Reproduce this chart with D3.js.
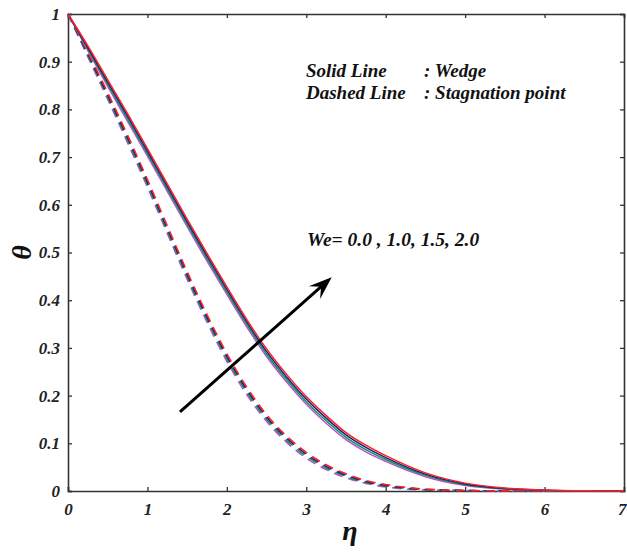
<!DOCTYPE html>
<html>
<head>
<meta charset="utf-8">
<script src="https://cdn.jsdelivr.net/npm/d3@7"></script>
<style>
  html, body { margin: 0; padding: 0; background: #fff; }
  svg { display: block; }
  .ax text { font-family: "Liberation Serif", "Times New Roman", serif; font-weight: bold; font-style: italic; font-size: 17px; fill: #222; }
  .lab { font-family: "Liberation Serif", "Times New Roman", serif; font-weight: bold; font-style: italic; fill: #111; }
</style>
</head>
<body>
<svg id="chart" width="627" height="552"></svg>
<script>
// ---- data ----
const eta = [0, 0.25, 0.5, 0.75, 1, 1.25, 1.5, 1.75, 2, 2.25, 2.5, 2.75, 3, 3.25, 3.5, 3.75, 4, 4.5, 5, 5.5, 6, 6.5, 7];

// Wedge (solid lines)
const wedgeWe00 = [1, 0.923, 0.848, 0.775, 0.702, 0.628, 0.554, 0.482, 0.412, 0.344, 0.282, 0.229, 0.182, 0.142, 0.1075, 0.082, 0.062, 0.030, 0.0115, 0.0038, 0.001, 0.0002, 0];
const wedgeWe10 = [1, 0.9263, 0.8527, 0.7803, 0.7073, 0.6333, 0.5593, 0.4873, 0.4173, 0.3493, 0.2873, 0.2343, 0.1873, 0.1473, 0.1125, 0.0867, 0.066, 0.0327, 0.0132, 0.0046, 0.0013, 0.0003, 0];
const wedgeWe15 = [1, 0.9297, 0.8573, 0.7857, 0.7127, 0.6387, 0.5647, 0.4927, 0.4227, 0.3547, 0.2927, 0.2397, 0.1927, 0.1527, 0.1175, 0.0913, 0.070, 0.0353, 0.0148, 0.0054, 0.0017, 0.0003, 0];
const wedgeWe20 = [1, 0.933, 0.862, 0.791, 0.718, 0.644, 0.570, 0.498, 0.428, 0.360, 0.298, 0.245, 0.198, 0.158, 0.1225, 0.096, 0.074, 0.038, 0.0165, 0.0062, 0.002, 0.0004, 0];

// Stagnation point (dashed lines)
const stagWe00 = [1, 0.910, 0.821, 0.730, 0.637, 0.540, 0.444, 0.354, 0.272, 0.202, 0.146, 0.1025, 0.069, 0.045, 0.028, 0.016, 0.0085, 0.002, 0.001, 0.0002, 0, 0, 0];
const stagWe10 = [1, 0.9133, 0.8257, 0.7353, 0.6423, 0.5453, 0.4493, 0.3593, 0.2773, 0.2073, 0.1507, 0.1068, 0.073, 0.0483, 0.0307, 0.018, 0.0102, 0.0027, 0.001, 0.0002, 0, 0, 0];
const stagWe15 = [1, 0.9167, 0.8303, 0.7407, 0.6477, 0.5507, 0.4547, 0.3647, 0.2827, 0.2127, 0.1553, 0.1112, 0.077, 0.0517, 0.0333, 0.020, 0.0118, 0.0033, 0.001, 0.0002, 0, 0, 0];
const stagWe20 = [1, 0.920, 0.835, 0.746, 0.653, 0.556, 0.460, 0.370, 0.288, 0.218, 0.160, 0.1155, 0.081, 0.055, 0.036, 0.022, 0.0135, 0.004, 0.001, 0.0002, 0, 0, 0];

const weValues = ["0.0", "1.0", "1.5", "2.0"];
const seriesColors = ["#c050c0", "#00956a", "#1e1f78", "#ff2020"];

const xTicks = [0, 1, 2, 3, 4, 5, 6, 7];
const yTicks = [0, 0.1, 0.2, 0.3, 0.4, 0.5, 0.6, 0.7, 0.8, 0.9, 1];
const yTickLabels = ["0", "0.1", "0.2", "0.3", "0.4", "0.5", "0.6", "0.7", "0.8", "0.9", "1"];

const legendLines = [["Solid Line", ": Wedge"], ["Dashed Line", ": Stagnation point"]];
const annotationText = "We= 0.0 , 1.0, 1.5, 2.0";
const arrowFrom = [1.41, 0.166];
const arrowTo = [3.32, 0.448];

// ---- layout ----
const W = 627, H = 552;
const m = { left: 68, right: 3, top: 14, bottom: 61 };
const svg = d3.select("#chart");
const x = d3.scaleLinear().domain([0, 7]).range([m.left, W - m.right]);
const y = d3.scaleLinear().domain([0, 1]).range([H - m.bottom, m.top]);

const axisColor = "#333";

// axes with inward ticks
const gx = svg.append("g").attr("class", "ax").attr("transform", `translate(0,${y(0)})`)
  .call(d3.axisBottom(x).tickValues(xTicks).tickSize(-4).tickPadding(12).tickFormat(d3.format("d")));
// keep the last label inside the page
gx.selectAll(".tick text").filter(d => d === 7).attr("text-anchor", "end").attr("x", 2);
const gy = svg.append("g").attr("class", "ax").attr("transform", `translate(${x(0)},0)`)
  .call(d3.axisLeft(y).tickValues(yTicks).tickSize(-4).tickPadding(8).tickFormat((d, i) => yTickLabels[i]));
const gt = svg.append("g").attr("class", "ax").attr("transform", `translate(0,${y(1)})`)
  .call(d3.axisTop(x).tickValues(xTicks).tickSize(-4).tickFormat(""));
const gr = svg.append("g").attr("class", "ax").attr("transform", `translate(${x(7)},0)`)
  .call(d3.axisRight(y).tickValues(yTicks).tickSize(-4).tickFormat(""));
[gx, gy, gt, gr].forEach(g => {
  g.select(".domain").attr("stroke", axisColor).attr("stroke-width", 1.6);
  g.selectAll(".tick line").attr("stroke", axisColor).attr("stroke-width", 1.3);
});

// curves
const line = d3.line().x(d => x(d[0])).y(d => y(d[1])).curve(d3.curveMonotoneX);
const stag = [stagWe00, stagWe10, stagWe15, stagWe20];
const wedge = [wedgeWe00, wedgeWe10, wedgeWe15, wedgeWe20];

stag.forEach((s, i) => {
  svg.append("path").datum(eta.map((e, j) => [e, s[j]]))
    .attr("d", line).attr("fill", "none").attr("stroke", seriesColors[i])
    .attr("stroke-width", 1.6).attr("stroke-dasharray", "9,6");
});
wedge.forEach((s, i) => {
  svg.append("path").datum(eta.map((e, j) => [e, s[j]]))
    .attr("d", line).attr("fill", "none").attr("stroke", seriesColors[i])
    .attr("stroke-width", 1.5);
});

// arrow annotation
const x1 = x(arrowFrom[0]), y1 = y(arrowFrom[1]), x2 = x(arrowTo[0]), y2 = y(arrowTo[1]);
const ang = Math.atan2(y2 - y1, x2 - x1);
const headLen = 23, headW = 8.5;
svg.append("line").attr("x1", x1).attr("y1", y1)
  .attr("x2", x2 - Math.cos(ang) * 10).attr("y2", y2 - Math.sin(ang) * 10)
  .attr("stroke", "#000").attr("stroke-width", 3);
const pt = (along, perp) => [x2 + Math.cos(ang) * along - Math.sin(ang) * perp, y2 + Math.sin(ang) * along + Math.cos(ang) * perp];
const head = [pt(0, 0), pt(-headLen, -headW), pt(-headLen * 0.62, 0), pt(-headLen, headW)];
svg.append("path").attr("d", "M" + head.map(p => p.join(",")).join("L") + "Z").attr("fill", "#000");

// legend texts
legendLines.forEach((l, i) => {
  svg.append("text").attr("class", "lab").attr("x", 306).attr("y", 77 + i * 21.5).attr("font-size", 19).text(l[0]);
  svg.append("text").attr("class", "lab").attr("x", 424).attr("y", 77 + i * 21.5).attr("font-size", 19).text(l[1]);
});
svg.append("text").attr("class", "lab").attr("x", 307).attr("y", 246).attr("font-size", 19.5).text(annotationText);

// axis titles
svg.append("text").attr("class", "lab").attr("font-size", 28).attr("text-anchor", "middle")
  .attr("transform", `translate(31,${y(0.5)}) rotate(-90)`).text("θ");
svg.append("text").attr("class", "lab").attr("font-size", 28).attr("text-anchor", "middle")
  .attr("x", 350).attr("y", 540).text("η");
</script>
</body>
</html>
